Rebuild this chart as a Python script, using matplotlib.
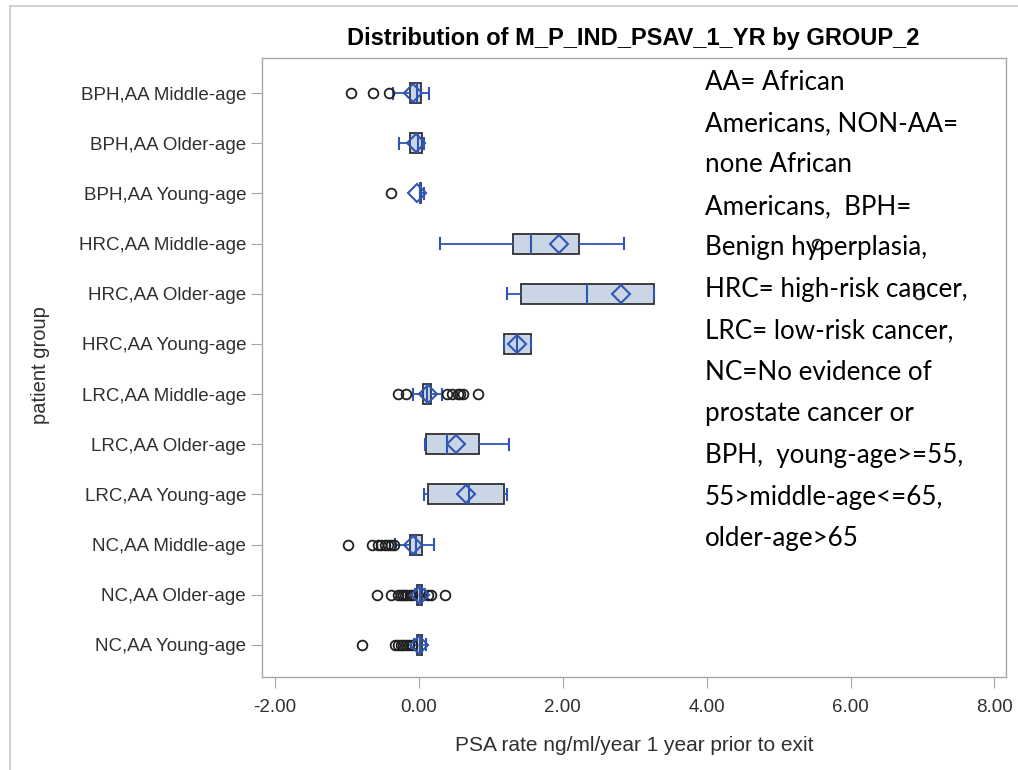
import matplotlib
matplotlib.use("Agg")
import matplotlib.pyplot as plt
from matplotlib.lines import Line2D

# groups, top to bottom
groups = ["BPH,AA Middle-age", "BPH,AA Older-age", "BPH,AA Young-age",
          "HRC,AA Middle-age", "HRC,AA Older-age", "HRC,AA Young-age",
          "LRC,AA Middle-age", "LRC,AA Older-age", "LRC,AA Young-age",
          "NC,AA Middle-age", "NC,AA Older-age", "NC,AA Young-age"]

# box statistics
whislo = [-0.36, -0.28, 0.01, 0.29, 1.22, 1.18, -0.08, 0.08, 0.07, -0.33, -0.05, -0.07]
q1 = [-0.125, -0.125, 0.015, 1.31, 1.42, 1.18, 0.06, 0.10, 0.13, -0.125, -0.02, -0.03]
med = [-0.03, -0.01, 0.02, 1.56, 2.34, 1.36, 0.11, 0.39, 0.70, -0.04, 0.01, 0.01]
q3 = [0.03, 0.04, 0.03, 2.23, 3.27, 1.56, 0.17, 0.83, 1.18, 0.04, 0.05, 0.05]
whishi = [0.14, 0.07, 0.07, 2.85, 3.27, 1.56, 0.32, 1.25, 1.22, 0.21, 0.09, 0.10]
means = [-0.08, -0.04, -0.03, 1.95, 2.81, 1.36, 0.13, 0.51, 0.65, -0.08, 0.02, 0.00]
fliers = [
    [-0.95, -0.64, -0.41],
    [],
    [-0.39],
    [5.54],
    [6.95],
    [],
    [-0.29, -0.18, 0.39, 0.46, 0.54, 0.57, 0.61, 0.82],
    [],
    [],
    [-0.99, -0.65, -0.57, -0.53, -0.47, -0.43, -0.39, -0.35],
    [-0.58, -0.39, -0.29, -0.25, -0.22, -0.19, -0.16, -0.13, -0.10, 0.13, 0.17, 0.36],
    [-0.79, -0.33, -0.29, -0.25, -0.22, -0.18, -0.14, -0.10],
]

note = ["AA= African", "Americans, NON-AA=", "none African", "Americans,  BPH=",
        "Benign hyperplasia,", "HRC= high-risk cancer,", "LRC= low-risk cancer,",
        "NC=No evidence of", "prostate cancer or", "BPH,  young-age>=55,",
        "55>middle-age<=65,", "older-age>65"]

xticks = [-2, 0, 2, 4, 6, 8]

blue = "#2F55B5"
sas_font = ["Liberation Sans", "DejaVu Sans"]

stats = []
for i in range(len(groups)):
    stats.append(dict(whislo=whislo[i], q1=q1[i], med=med[i], q3=q3[i],
                      whishi=whishi[i], mean=means[i], fliers=fliers[i]))

fig = plt.figure(figsize=(10.18, 7.70), dpi=100)
ax = fig.add_axes([262 / 1018, 1 - 677 / 770, 744 / 1018, 619 / 770])

pos = list(range(len(groups)))
ax.bxp(stats, positions=pos, vert=False, widths=0.4, patch_artist=True,
       showmeans=True, capwidths=0.22,
       boxprops=dict(facecolor="#CAD5E6", edgecolor="#303030", linewidth=1.3),
       medianprops=dict(color=blue, linewidth=1.5),
       whiskerprops=dict(color=blue, linewidth=1.3),
       capprops=dict(color=blue, linewidth=1.5),
       meanprops=dict(marker="D", markerfacecolor="none", markeredgecolor=blue,
                      markersize=9, markeredgewidth=1.5),
       flierprops=dict(marker="o", markerfacecolor="none", markeredgecolor="#202020",
                       markersize=7, markeredgewidth=1.3))

ax.set_xlim(-2.18, 8.16)
ax.set_ylim(11.64, -0.70)
ax.set_xticks(xticks)
ax.set_xticklabels(["%.2f" % t for t in xticks])
ax.set_yticks(pos)
ax.set_yticklabels(groups)

for s in ax.spines.values():
    s.set_color("#A8A8A8")
    s.set_linewidth(1.0)
ax.tick_params(axis="both", direction="out", length=8, color="#A8A8A8",
               labelsize=13.5, labelcolor="#303030")
ax.tick_params(axis="x", pad=8)
ax.tick_params(axis="y", pad=3.5)
for lab in ax.get_xticklabels() + ax.get_yticklabels():
    lab.set_family(sas_font)

ax.set_xlabel("PSA rate ng/ml/year 1 year prior to exit", fontsize=15,
              family=sas_font, color="#303030", labelpad=14)
fig.text(40 / 1018, 1 - 365 / 770, "patient group", rotation=90, ha="center",
         va="center", fontsize=14.5, family=sas_font, color="#303030")

fig.text(633 / 1018, 1 - 38 / 770, "Distribution of M_P_IND_PSAV_1_YR by GROUP_2",
         ha="center", va="center", fontsize=17, fontweight="bold",
         family=sas_font, color="black")

# note text drawn over the plot
for k, line in enumerate(note):
    fig.text(705 / 1018, 1 - (82 + 41.5 * k) / 770, line, ha="left", va="center",
             fontsize=18.7, family=["Lato", "DejaVu Sans"], color="black")

# thin border of the graph area
fig.add_artist(Line2D([10 / 1018, 10 / 1018], [0, 1 - 6 / 770], color="#C8C8C8", lw=1.2))
fig.add_artist(Line2D([10 / 1018, 1], [1 - 6 / 770, 1 - 6 / 770], color="#C8C8C8", lw=1.2))

fig.savefig("out.png", dpi=100)
